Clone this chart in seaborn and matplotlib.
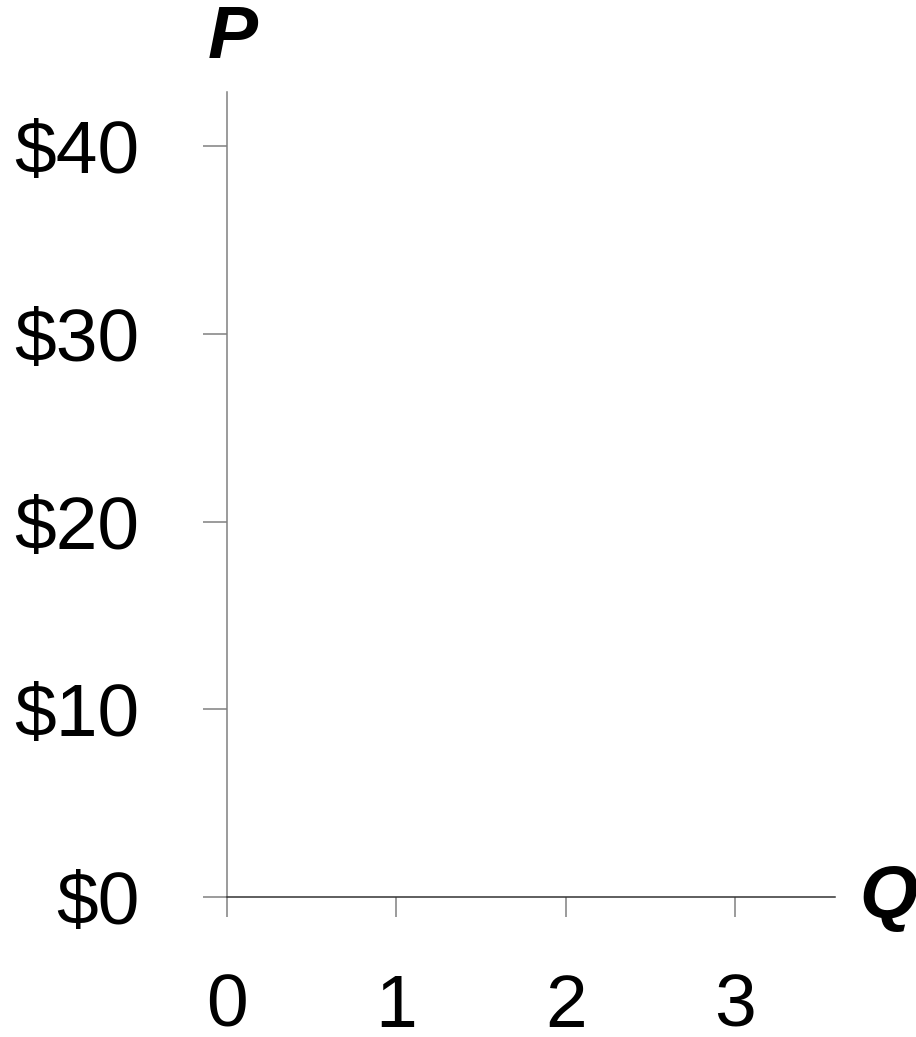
import matplotlib
matplotlib.use("Agg")
import matplotlib.pyplot as plt
import seaborn as sns
import pandas as pd

# axis values (empty price/quantity diagram)
q_ticks = [0, 1, 2, 3]
q_labels = ["0", "1", "2", "3"]
p_ticks = [0, 10, 20, 30, 40]
p_labels = ["$0", "$10", "$20", "$30", "$40"]
q_max = 3.59
p_max = 42.9

sns.set_style("ticks")
plt.rcParams['font.family'] = ['Liberation Sans', 'DejaVu Sans']

fig = plt.figure(figsize=(9.16, 10.37), dpi=100)
ax = fig.add_axes([227 / 916, 140 / 1037, 608 / 916, 805 / 1037])

# no curves yet, just the empty axes
df = pd.DataFrame({"Q": [], "P": []})
sns.lineplot(data=df, x="Q", y="P", ax=ax)

ax.set_xlim(0, q_max)
ax.set_ylim(0, p_max)
ax.set_xticks(q_ticks)
ax.set_xticklabels(q_labels)
ax.set_yticks(p_ticks)
ax.set_yticklabels(p_labels)
ax.set_xlabel("")
ax.set_ylabel("")

for s in ["top", "right"]:
    ax.spines[s].set_visible(False)
ax.spines["left"].set_color("#808080")
ax.spines["left"].set_linewidth(1.1)
ax.spines["bottom"].set_color("#333333")
ax.spines["bottom"].set_linewidth(1.1)

ax.tick_params(axis="x", length=14.5, width=1.1, color="#808080", pad=40,
               labelsize=54, labelcolor="black")
ax.tick_params(axis="y", length=17, width=1.1, color="#808080", pad=46,
               labelsize=54, labelcolor="black")

fig.text(233 / 916, 1 - 38 / 1037, "P", fontsize=54, fontweight="bold", fontstyle="italic",
         ha="center", va="center", color="black")
fig.text(889 / 916, 1 - 897 / 1037, "Q", fontsize=54, fontweight="bold", fontstyle="italic",
         ha="center", va="center", color="black")

fig.savefig("out.png", dpi=100, facecolor="white")
